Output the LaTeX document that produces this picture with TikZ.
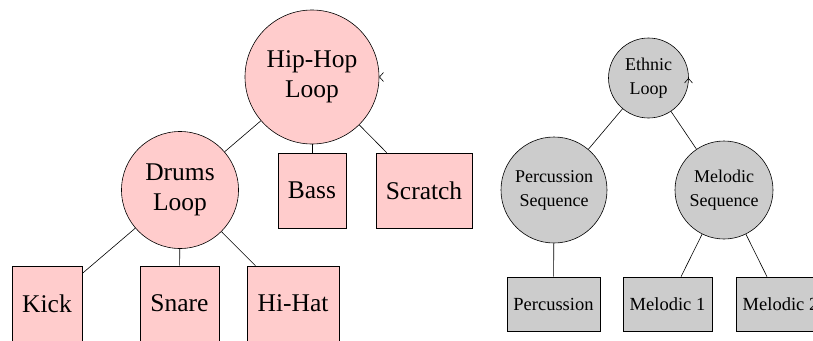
\documentclass[tikz,border=0pt]{standalone}
\usepackage{fontspec}
\setmainfont{Liberation Serif}
\begin{document}
\begin{tikzpicture}[x=1pt,y=-1pt,
  every node/.style={inner sep=0pt, align=center},
  pinkcirc/.style={circle, draw, fill=pinkc, font=\fontsize{25.5}{30}\selectfont, line width=0.6pt},
  pinkbox/.style={rectangle, draw, fill=pinkc, minimum height=75pt, font=\fontsize{25.5}{30}\selectfont, line width=0.6pt},
  graycirc/.style={circle, draw, fill=grayc, font=\fontsize{18}{24}\selectfont, line width=0.6pt},
  graybox/.style={rectangle, draw, fill=grayc, minimum height=54pt, font=\fontsize{18.5}{24}\selectfont, line width=0.6pt},
  edge/.style={draw, line width=0.6pt}]
\definecolor{pinkc}{HTML}{FFCCCC}
\definecolor{grayc}{HTML}{CCCCCC}
\useasboundingbox (0,0) rectangle (813,340);
% left tree
\node[pinkcirc, minimum size=134pt] (hiphop) at (312,77) {Hip-Hop\\Loop};
\node[pinkcirc, minimum size=117pt] (drums) at (180,190) {Drums\\Loop};
\node[pinkbox, minimum width=68pt] (bass) at (312,190.5) {Bass};
\node[pinkbox, minimum width=96pt] (scratch) at (424,190.5) {Scratch};
\node[pinkbox, minimum width=70pt] (kick) at (47,303.5) {Kick};
\node[pinkbox, minimum width=79pt] (snare) at (179.5,303.5) {Snare};
\node[pinkbox, minimum width=92pt] (hihat) at (293,303.5) {Hi-Hat};
\draw[edge] (hiphop) -- (drums);
\draw[edge] (hiphop) -- (bass);
\draw[edge] (hiphop) -- (scratch);
\draw[edge] (drums) -- (kick);
\draw[edge] (drums) -- (snare);
\draw[edge] (drums) -- (hihat);
\draw[line width=0.6pt] (383.5,72.5) -- (379.5,77) -- (383.5,81.5);
% right tree
\node[graycirc, minimum size=80pt] (ethnic) at (648.5,78) {Ethnic\\Loop};
\node[graycirc, minimum size=106pt] (percseq) at (554,190) {Percussion\\Sequence};
\node[graycirc, minimum size=98pt] (melseq) at (724,190) {Melodic\\Sequence};
\node[graybox, minimum width=93pt] (perc) at (553.5,304) {Percussion};
\node[graybox, minimum width=89pt] (mel1) at (667.5,304) {Melodic 1};
\node[graybox, minimum width=89pt] (mel2) at (780.5,304) {Melodic 2};
\draw[edge] (ethnic) -- (percseq);
\draw[edge] (ethnic) -- (melseq);
\draw[edge] (percseq) -- (perc);
\draw[edge] (melseq) -- (mel1);
\draw[edge] (melseq) -- (mel2);
\draw[line width=0.6pt] (684.5,83) -- (688.5,78.5) -- (692.5,83);
\end{tikzpicture}
\end{document}
